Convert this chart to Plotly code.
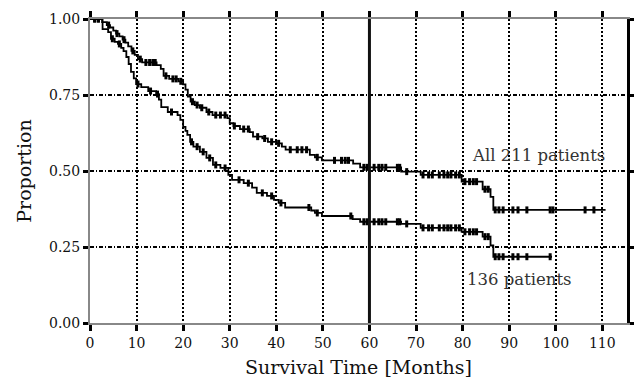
import numpy as np
import plotly.graph_objects as go

# ---- Data ----
all_times = [0, 2.6, 3.6, 4.3, 5.0, 5.6, 6.3, 7.0, 7.6, 8.2, 8.9, 9.6, 10.3, 11.2, 14.3, 15.2,
             15.8, 17.0, 19.0, 20.0, 20.5, 21.0, 21.6, 22.5, 23.6, 25.0, 26.3, 29.5, 30.0, 30.8,
             32.2, 34.3, 35.0, 37.0, 38.2, 40.0, 41.2, 42.0, 47.2, 48.3, 49.8, 56.5, 58.0, 66.8,
             71.0, 79.8, 84.3, 86.0, 86.6, 110.7]
all_surv = [1.0, 0.99, 0.98, 0.972, 0.962, 0.952, 0.943, 0.932, 0.922, 0.91, 0.895, 0.882, 0.868,
            0.857, 0.848, 0.836, 0.813, 0.803, 0.795, 0.785, 0.768, 0.745, 0.728, 0.717, 0.708,
            0.694, 0.684, 0.674, 0.657, 0.648, 0.638, 0.628, 0.613, 0.607, 0.596, 0.591, 0.58,
            0.57, 0.553, 0.545, 0.535, 0.524, 0.512, 0.498, 0.487, 0.465, 0.44, 0.415, 0.372, 0.372]
all_censor = [1.0, 1.8, 4.0, 5.8, 7.3, 9.2, 10.8, 12.0, 12.8, 13.5, 14.0, 16.3, 17.8, 18.5, 19.5,
              22.0, 23.0, 24.0, 25.5, 27.0, 28.0, 29.0, 31.0, 33.0, 34.0, 36.0, 37.5, 39.0, 40.5,
              43.0, 44.5, 45.5, 46.5, 48.8, 52.5, 54.0, 54.8, 55.5, 58.8, 59.5, 61.0, 62.0, 62.7,
              63.5, 66.0, 66.5, 68.0, 71.5, 72.7, 73.5, 75.0, 76.0, 76.8, 77.5, 78.5, 79.3, 80.5,
              81.5, 82.3, 83.0, 84.8, 85.5, 87.0, 87.8, 88.7, 90.8, 91.9, 93.8, 98.8, 99.4, 106.3,
              108.2]

sub_times = [0, 2.7, 3.9, 4.5, 5.3, 6.0, 6.7, 7.2, 7.8, 8.3, 8.8, 9.4, 9.9, 11.0, 12.5, 14.2, 14.8,
             15.3, 16.7, 18.8, 19.4, 20.0, 20.5, 20.9, 21.5, 22.2, 23.6, 25.0, 26.4, 28.0, 29.7,
             30.5, 33.0, 34.8, 35.8, 38.0, 39.5, 40.5, 41.9, 47.5, 48.3, 49.8, 56.4, 58.0, 66.8,
             71.0, 79.8, 84.3, 86.0, 86.6, 99.2]
sub_surv = [1.0, 0.967, 0.957, 0.935, 0.925, 0.918, 0.905, 0.894, 0.875, 0.852, 0.826, 0.805,
            0.786, 0.776, 0.763, 0.753, 0.735, 0.71, 0.694, 0.684, 0.668, 0.645, 0.632, 0.619,
            0.596, 0.58, 0.563, 0.543, 0.52, 0.51, 0.487, 0.471, 0.46, 0.445, 0.428, 0.418, 0.405,
            0.395, 0.38, 0.37, 0.362, 0.352, 0.342, 0.333, 0.326, 0.313, 0.3, 0.284, 0.255, 0.218,
            0.218]
sub_censor = [1.0, 1.8, 4.8, 6.3, 10.3, 13.0, 14.5, 17.5, 21.8, 23.0, 24.3, 25.7, 27.0, 29.0,
              32.0, 34.0, 37.0, 39.0, 41.0, 47.0, 48.8, 56.0, 58.8, 59.5, 61.0, 62.0, 62.7, 63.5,
              66.0, 66.5, 68.0, 71.5, 72.7, 73.5, 75.0, 76.0, 76.8, 77.5, 78.5, 79.3, 80.5, 81.5,
              82.3, 83.0, 84.8, 85.5, 87.0, 87.8, 88.7, 90.8, 91.9, 93.8, 98.8]

x_ticks = [0, 10, 20, 30, 40, 50, 60, 70, 80, 90, 100, 110]
y_ticks = [0, 0.25, 0.5, 0.75, 1.0]
y_ticktext = ["0.00", "0.25", "0.50", "0.75", "1.00"]
reference_month = 60
labels = ["All 211 patients", "136 patients"]
label_x = [96.2, 92.3]
label_y = [0.55, 0.142]

SERIF = "DejaVu Serif"
INK = "#111"


def step_value(times, surv, t):
    idx = np.searchsorted(np.asarray(times), np.asarray(t), side="right") - 1
    return np.asarray(surv)[idx]


fig = go.Figure()

for times, surv, cens in [(sub_times, sub_surv, sub_censor), (all_times, all_surv, all_censor)]:
    fig.add_trace(go.Scatter(x=times, y=surv, mode="lines",
                             line=dict(shape="hv", color="black", width=1.8),
                             showlegend=False, hoverinfo="skip"))
    fig.add_trace(go.Scatter(x=cens, y=step_value(times, surv, cens), mode="markers",
                             marker=dict(symbol="line-ns", size=5, line=dict(color="black", width=3)),
                             showlegend=False, hoverinfo="skip"))

# vertical reference line at 60 months (drawn on the right-hand axis, same scale)
fig.add_trace(go.Scatter(x=[reference_month, reference_month], y=[y_ticks[0], y_ticks[-1]],
                         mode="lines", line=dict(color="#111", width=3), yaxis="y2",
                         showlegend=False, hoverinfo="skip"))

for txt, lx, ly in zip(labels, label_x, label_y):
    fig.add_annotation(x=lx, y=ly, text=txt, showarrow=False,
                       font=dict(family=SERIF, size=16.5, color="#333"))

fig.update_layout(
    width=634, height=378,
    margin=dict(l=90, r=7, t=19, b=55),
    paper_bgcolor="white", plot_bgcolor="white",
    font=dict(family=SERIF, color=INK),
    xaxis=dict(range=[0, 115.3], tickvals=x_ticks, ticks="outside", ticklen=6, tickwidth=3,
               tickcolor="black", showline=True, linecolor="#888", linewidth=2, mirror="ticks",
               showgrid=True, gridcolor="black", gridwidth=1.5, griddash="2px,2px", zeroline=False,
               automargin=False,
               tickfont=dict(family=SERIF, size=14, color=INK),
               title=dict(text="Survival Time [Months]", font=dict(family=SERIF, size=19, color=INK),
                          standoff=11)),
    yaxis=dict(range=[0, 1], tickvals=y_ticks, ticktext=y_ticktext, ticks="outside", ticklen=5,
               tickwidth=3, tickcolor="black", showline=True, linecolor="#888", linewidth=2,
               showgrid=True, gridcolor="black", gridwidth=1.5, griddash="4px,2px,1px,2px",
               zeroline=False, automargin=False, tickfont=dict(family=SERIF, size=14, color=INK),
               title=dict(text="Proportion", font=dict(family=SERIF, size=19, color=INK),
                          standoff=12)),
    yaxis2=dict(range=[0, 1], overlaying="y", side="right", tickvals=y_ticks, ticks="outside",
                ticklen=5, tickwidth=3, tickcolor="black", showline=True, linecolor="black",
                linewidth=3, showticklabels=False, showgrid=False, zeroline=False, automargin=False),
)

fig.write_html("out.html", config={"displayModeBar": False},
               post_script="document.body.style.margin='0px';")
